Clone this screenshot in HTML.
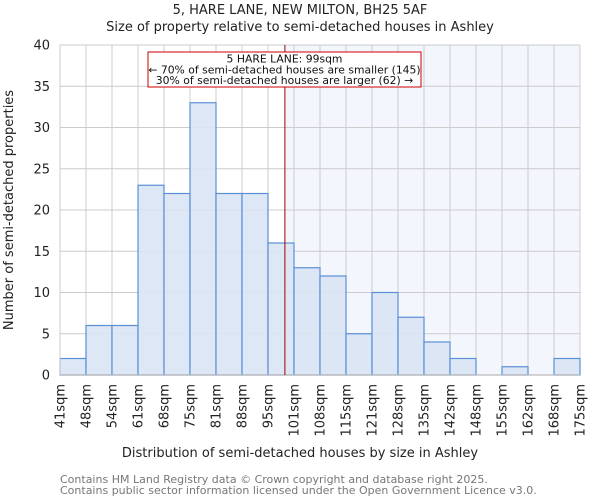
<!DOCTYPE html>
<html><head><meta charset="utf-8"><style>
body{margin:0;background:#fff;}
svg{display:block;font-family:"DejaVu Sans","Liberation Sans",sans-serif;}
</style></head><body>
<svg id="chart" width="600" height="500" viewBox="0 0 600 500"></svg>
<script>
const categories = ["41sqm","48sqm","54sqm","61sqm","68sqm","75sqm","81sqm","88sqm","95sqm","101sqm","108sqm","115sqm","121sqm","128sqm","135sqm","142sqm","148sqm","155sqm","162sqm","168sqm","175sqm"];
const counts = [2,6,6,23,22,33,22,22,16,13,12,5,10,7,4,2,0,1,0,2];
const yTicks = [0,5,10,15,20,25,30,35,40];
const markerBinPos = 8.65;
const annotationLines = ["5 HARE LANE: 99sqm","\u2190 70% of semi-detached houses are smaller (145)","30% of semi-detached houses are larger (62) \u2192"];

const NS="http://www.w3.org/2000/svg";
const svg=document.getElementById('chart');
const L=60,R=580,T=45,B=375,YMAX=40;
const nb=counts.length;
const bw=(R-L)/nb;
function xs(i){return L+i*bw;}
function ys(v){return B-(v/YMAX)*(B-T);}
function mk(tag,attrs,parent){const e=document.createElementNS(NS,tag);for(const k in attrs)e.setAttribute(k,attrs[k]);(parent||svg).appendChild(e);return e;}

const mx=xs(markerBinPos);
const hl=mk('rect',{x:mx,y:T,width:R-mx,height:B-T,fill:'#f3f6fd'});


for(let i=0;i<=nb;i++){const g=mk('line',{x1:xs(i),x2:xs(i),y1:T,y2:B,stroke:'#cccccc','stroke-width':1});

}
yTicks.forEach(v=>{const g=mk('line',{x1:L,x2:R,y1:ys(v),y2:ys(v),stroke:'#cccccc','stroke-width':1});

});
counts.forEach((c,i)=>{if(c<=0)return;
const r=mk('rect',{x:xs(i),y:ys(c),width:bw,height:B-ys(c),fill:'#dae4f4',stroke:'#5a8fd6','stroke-width':1.2,'fill-opacity':0.9});

});
const ax=mk('line',{x1:L,x2:R,y1:B,y2:B,stroke:'#bbbbbb','stroke-width':1.2});


const ay=mk('line',{x1:L,x2:L,y1:T,y2:B,stroke:'#cccccc','stroke-width':1});


const ml=mk('line',{x1:mx,x2:mx,y1:T,y2:B,stroke:'#a00000','stroke-width':1});


yTicks.forEach(v=>{const t=mk('text',{x:L-10,y:ys(v)+4.5,'text-anchor':'end','font-size':13,fill:'#222'});t.textContent=v;

});
categories.forEach((c,i)=>{const x=xs(i)+4.5,y=B+9;const t=mk('text',{x:x,y:y,'text-anchor':'end','font-size':13,fill:'#222',transform:`rotate(-90 ${x} ${y})`});t.textContent=c;

});
const ab=mk('rect',{x:148,y:52,width:273,height:35,fill:'#fff',stroke:'#cc0000','stroke-width':1});


annotationLines.forEach((s,i)=>{const t=mk('text',{x:284.5,y:62.5+i*10.8,'text-anchor':'middle','font-size':10.8,fill:'#111'});t.textContent=s;

});
function txt(s,x,y,size,name,extra){const t=mk('text',Object.assign({x:x,y:y,'font-size':size,fill:'#222'},extra||{}));t.textContent=s;return t;}
txt('5, HARE LANE, NEW MILTON, BH25 5AF',300,14,13,'chart-title',{'text-anchor':'middle'});
txt('Size of property relative to semi-detached houses in Ashley',300,31,13,'chart-subtitle',{'text-anchor':'middle'});
txt('Distribution of semi-detached houses by size in Ashley',300,457,13,'x-axis-title',{'text-anchor':'middle'});
txt('Number of semi-detached properties',13,210,13,'y-axis-title',{'text-anchor':'middle',transform:'rotate(-90 13 210)'});
txt('Contains HM Land Registry data \u00a9 Crown copyright and database right 2025.',60,483,11,'footer-line-1',{fill:'#777'});
txt('Contains public sector information licensed under the Open Government Licence v3.0.',60,494,11,'footer-line-2',{fill:'#777'});
</script>
</body></html>
